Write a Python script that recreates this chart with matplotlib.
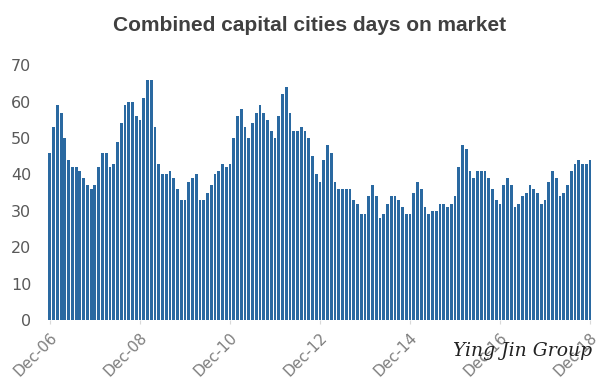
import numpy as np
import matplotlib
matplotlib.use("Agg")
import matplotlib.pyplot as plt

# Monthly days on market, Dec-06 .. Dec-18 (145 months)
days = [46, 53, 59, 57, 50, 44, 42, 42, 41, 39, 37, 36,
        37, 42, 46, 46, 42, 43, 49, 54, 59, 60, 60, 56,
        55, 61, 66, 66, 53, 43, 40, 40, 41, 39, 36, 33,
        33, 38, 39, 40, 33, 33, 35, 37, 40, 41, 43, 42,
        43, 50, 56, 58, 53, 50, 54, 57, 59, 57, 55, 52,
        50, 56, 62, 64, 57, 52, 52, 53, 52, 50, 45, 40,
        38, 44, 48, 46, 38, 36, 36, 36, 36, 33, 32, 29,
        29, 34, 37, 34, 28, 29, 32, 34, 34, 33, 31, 29,
        29, 35, 38, 36, 31, 29, 30, 30, 32, 32, 31, 32,
        34, 42, 48, 47, 41, 39, 41, 41, 41, 39, 36, 33,
        32, 37, 39, 37, 31, 32, 34, 35, 37, 36, 35, 32,
        33, 38, 41, 39, 34, 35, 37, 41, 43, 44, 43, 43,
        44]
tick_labels = ["Dec-06", "Dec-08", "Dec-10", "Dec-12", "Dec-14", "Dec-16", "Dec-18"]
y_ticks = [0, 10, 20, 30, 40, 50, 60, 70]

x = np.arange(len(days))

fig = plt.figure(figsize=(6.03, 3.88), dpi=100, facecolor="white")
ax = fig.add_axes([0.0796, 0.175, 0.902, 0.657])

ax.bar(x, days, width=0.74, color="#2a69a1", edgecolor="none")

ax.set_xlim(-0.5, len(days) - 0.5)
ax.set_ylim(0, 70)
ax.set_yticks(y_ticks)
ax.set_xticks(np.arange(0, len(days), 24))
ax.set_xticklabels(tick_labels, rotation=45, ha="right", rotation_mode="anchor")

for s in ax.spines.values():
    s.set_visible(False)
ax.tick_params(axis="y", length=0, labelsize=11.5, labelcolor="#595959", pad=12)
ax.tick_params(axis="x", length=3, color="#d9d9d9", labelsize=11,
               labelcolor="#7f7f7f", pad=4)

fig.text(0.513, 0.935, "Combined capital cities days on market",
         ha="center", va="center", fontsize=15, fontweight="bold",
         color="#404040", family="Liberation Sans")

# watermark
fig.text(0.752, 0.095, "Ying Jin Group", fontsize=13.5, style="italic",
         family="DejaVu Serif", color="#222222", ha="left", va="center")

plt.savefig("out.png", dpi=100)
